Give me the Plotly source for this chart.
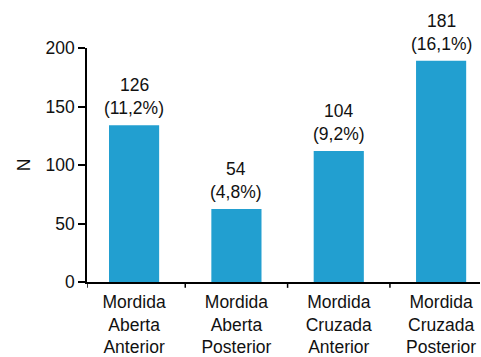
import plotly.graph_objects as go

categories = ["Mordida<br>Aberta<br>Anterior", "Mordida<br>Aberta<br>Posterior",
              "Mordida<br>Cruzada<br>Anterior", "Mordida<br>Cruzada<br>Posterior"]
bar_heights = [134, 62.5, 112, 189]
counts = ["126", "54", "104", "181"]
percents = ["(11,2%)", "(4,8%)", "(9,2%)", "(16,1%)"]
y_ticks = [0, 50, 100, 150, 200]

FONT = "Liberation Sans, Arial, Helvetica, sans-serif"
FS = 17.5
positions = list(range(len(categories)))

fig = go.Figure()
fig.add_trace(go.Bar(
    x=positions, y=bar_heights, width=0.49,
    marker=dict(color="#229fd0", line=dict(width=0)),
    hoverinfo="skip",
))

annotations = []
for i, (c, p, h) in enumerate(zip(counts, percents, bar_heights)):
    annotations.append(dict(x=i, y=h, text=c, showarrow=False, xanchor="center",
                            yanchor="middle", yshift=40, font=dict(size=FS, color="#111", family=FONT)))
    annotations.append(dict(x=i, y=h, text=p, showarrow=False, xanchor="center",
                            yanchor="middle", yshift=17, font=dict(size=FS, color="#111", family=FONT)))

fig.update_layout(
    width=481, height=357,
    margin=dict(l=87, r=1, t=48, b=75),
    paper_bgcolor="white", plot_bgcolor="white",
    showlegend=False,
    font=dict(family=FONT, size=FS, color="#111"),
    annotations=annotations,
    xaxis=dict(
        range=[-0.46, 3.38],
        tickmode="array", tickvals=positions, ticktext=categories,
        ticks="", showline=True, linecolor="black", linewidth=1.5,
        showgrid=False, zeroline=False, fixedrange=True,
        ticklabelstandoff=3,
        tickfont=dict(size=FS, family=FONT, color="#111"),
    ),
    yaxis=dict(
        range=[0, 200], tickvals=y_ticks,
        ticks="outside", ticklen=7, tickwidth=1.5, tickcolor="black",
        showline=True, linecolor="black", linewidth=1.5,
        showgrid=False, zeroline=False,
        title=dict(text="N", font=dict(size=FS, family=FONT, color="#111"), standoff=10),
        tickfont=dict(size=FS, family=FONT, color="#111"),
    ),
)

# category boundary ticks on the x axis
for b in [-0.46, 0.5, 1.5, 2.5]:
    fig.add_shape(type="line", xref="x", yref="paper", x0=b, x1=b, y0=0, y1=-0.025,
                  line=dict(color="black", width=1.5))

fig.write_html("out.html")
